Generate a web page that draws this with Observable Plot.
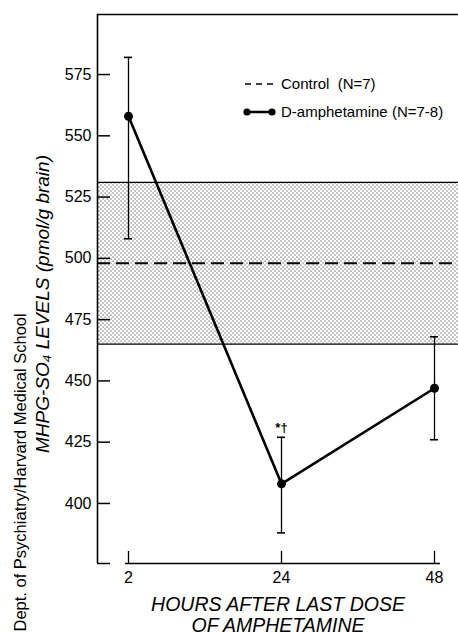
<!DOCTYPE html>
<html><head><meta charset="utf-8">
<script src="https://cdn.jsdelivr.net/npm/d3@7"></script>
<script src="https://cdn.jsdelivr.net/npm/@observablehq/plot@0.6"></script>
<style>
body{margin:0;background:#fff;}
#wrap{position:relative;width:458px;height:633px;overflow:hidden;background:#fff;}
#legend{position:absolute;left:0;top:0;pointer-events:none;}
</style></head><body><div id="wrap"></div>
<script>
// ---- data ----
const hours = [2, 24, 48];
const amphMean = [558, 408, 447];
const amphUpper = [582, 427, 468];
const amphLower = [508, 388, 426];
const controlMean = [498];
const controlLow = [465];
const controlHigh = [531];
const yTicks = [400, 425, 450, 475, 500, 525, 550, 575];
const yDomain = [375.5, 599.5];
const annotation = ["*†"];
const legendLabels = ["Control  (N=7)", "D-amphetamine (N=7-8)"];
const yLabel = "MHPG-SO₄ LEVELS (pmol/g brain)";
const xLabel = "HOURS AFTER LAST DOSE\nOF AMPHETAMINE";
const sideNote = "Dept. of Psychiatry/Harvard Medical School";

const amph = hours.map((h, i) => ({h, mean: amphMean[i], hi: amphUpper[i], lo: amphLower[i]}));
const band = [{lo: controlLow[0], hi: controlHigh[0]}];
const FONT = "'Liberation Sans', Arial, Helvetica, sans-serif";
const W = 458, ML = 97, TICK = 13;

const chart = Plot.plot({
  width: W, height: 633,
  marginTop: 14, marginBottom: 70, marginLeft: ML, marginRight: 0,
  style: {fontFamily: FONT, fontSize: "16px", color: "#000", background: "#fff"},
  x: {type: "point", domain: hours, range: [128, 434], padding: 0, label: null},
  y: {domain: yDomain, label: null},
  marks: [
    Plot.rect(band, {y1: "lo", y2: "hi", fill: "url(#stip)"}),
    Plot.ruleY(band, {y: "hi", stroke: "#000", strokeWidth: 1.4}),
    Plot.ruleY(band, {y: "lo", stroke: "#000", strokeWidth: 1.4}),
    Plot.ruleY(controlMean, {stroke: "#000", strokeWidth: 2, strokeDasharray: "13,6"}),
    // frame: top line, left axis line, foot, x baseline
    Plot.ruleY([yDomain[1]], {stroke: "#000", strokeWidth: 1.6}),
    Plot.ruleX([hours[0]], {dx: -31, y1: yDomain[0], y2: yDomain[1], stroke: "#000", strokeWidth: 1.6}),
    Plot.ruleY([yDomain[0]], {insetRight: W - ML - TICK, stroke: "#000", strokeWidth: 1.5}),
    Plot.ruleY([{y: yDomain[0], a: hours[0], b: hours[2]}], {y: "y", x1: "a", x2: "b", insetLeft: -3, insetRight: -6, stroke: "#000", strokeWidth: 1.3}),
    // y axis: inward tick marks, then labels
    Plot.ruleY(yTicks, {insetRight: W - ML - TICK, stroke: "#000", strokeWidth: 1.5}),
    Plot.axisY(yTicks, {tickSize: 0, tickPadding: 6, fontSize: 16}),
    // x axis: inward tick marks, then labels
    Plot.ruleX(hours, {x: d => d, y1: yDomain[0], y2: yDomain[0] + 4.9, stroke: "#000", strokeWidth: 1.3}),
    Plot.axisX(hours, {tickSize: 0, tickPadding: 8, fontSize: 16}),
    // error bars
    Plot.ruleX(amph, {x: "h", y1: "lo", y2: "hi", stroke: "#000", strokeWidth: 1.3}),
    Plot.ruleY(amph, {y: "hi", x1: "h", x2: "h", insetLeft: -4, insetRight: -4, stroke: "#000", strokeWidth: 1.6}),
    Plot.ruleY(amph, {y: "lo", x1: "h", x2: "h", insetLeft: -4, insetRight: -4, stroke: "#000", strokeWidth: 1.6}),
    // series
    Plot.line(amph, {x: "h", y: "mean", stroke: "#000", strokeWidth: 2.6}),
    Plot.dot(amph, {x: "h", y: "mean", r: 4.5, fill: "#000", stroke: "none"}),
    Plot.text([{h: hours[1], hi: amphUpper[1], t: annotation[0]}], {x: "h", y: "hi", text: "t", dy: -9, fontSize: 13, fontWeight: "bold"}),
    // labels
    Plot.text([yLabel], {frameAnchor: "left", text: d => d, rotate: -90, dx: -49, dy: 15, fontSize: 19, fontStyle: "italic", lineAnchor: "bottom", textAnchor: "middle"}),
    Plot.text([sideNote], {frameAnchor: "bottom-left", text: d => d, rotate: -90, dx: -72, dy: 68, fontSize: 16.5, lineAnchor: "bottom", textAnchor: "start"}),
    Plot.text([xLabel], {frameAnchor: "bottom", text: d => d, dy: 33, fontSize: 19.5, fontStyle: "italic", lineAnchor: "top", lineHeight: 1.05})
  ]
});

// stipple pattern for the control range band
const defs = d3.select(chart).insert("defs", ":first-child");
const pat = defs.append("pattern").attr("id", "stip").attr("patternUnits", "userSpaceOnUse")
  .attr("width", 4).attr("height", 4);
pat.append("rect").attr("width", 4).attr("height", 4).attr("fill", "#fff");
pat.append("rect").attr("x", 0.5).attr("y", 0.5).attr("width", 1.1).attr("height", 1.1).attr("fill", "#444");
pat.append("rect").attr("x", 2.5).attr("y", 2.5).attr("width", 1.1).attr("height", 1.1).attr("fill", "#444");

const wrap = document.getElementById("wrap");
wrap.appendChild(chart);

// legend overlay
const leg = d3.select(wrap).append("svg").attr("id", "legend").attr("width", 458).attr("height", 633)
  .style("font-family", FONT);
leg.append("line").attr("x1", 245).attr("x2", 277).attr("y1", 84).attr("y2", 84)
  .attr("stroke", "#000").attr("stroke-width", 1.5).attr("stroke-dasharray", "6,5");
leg.append("text").attr("x", 281).attr("y", 89).attr("font-size", 15).style("white-space", "pre").text(legendLabels[0]);
leg.append("line").attr("x1", 247).attr("x2", 272).attr("y1", 112).attr("y2", 112)
  .attr("stroke", "#000").attr("stroke-width", 2.5);
leg.append("circle").attr("cx", 247).attr("cy", 112).attr("r", 3.6).attr("fill", "#000");
leg.append("circle").attr("cx", 272).attr("cy", 112).attr("r", 3.6).attr("fill", "#000");
leg.append("text").attr("x", 281).attr("y", 117).attr("font-size", 15).text(legendLabels[1]);
</script></body></html>
